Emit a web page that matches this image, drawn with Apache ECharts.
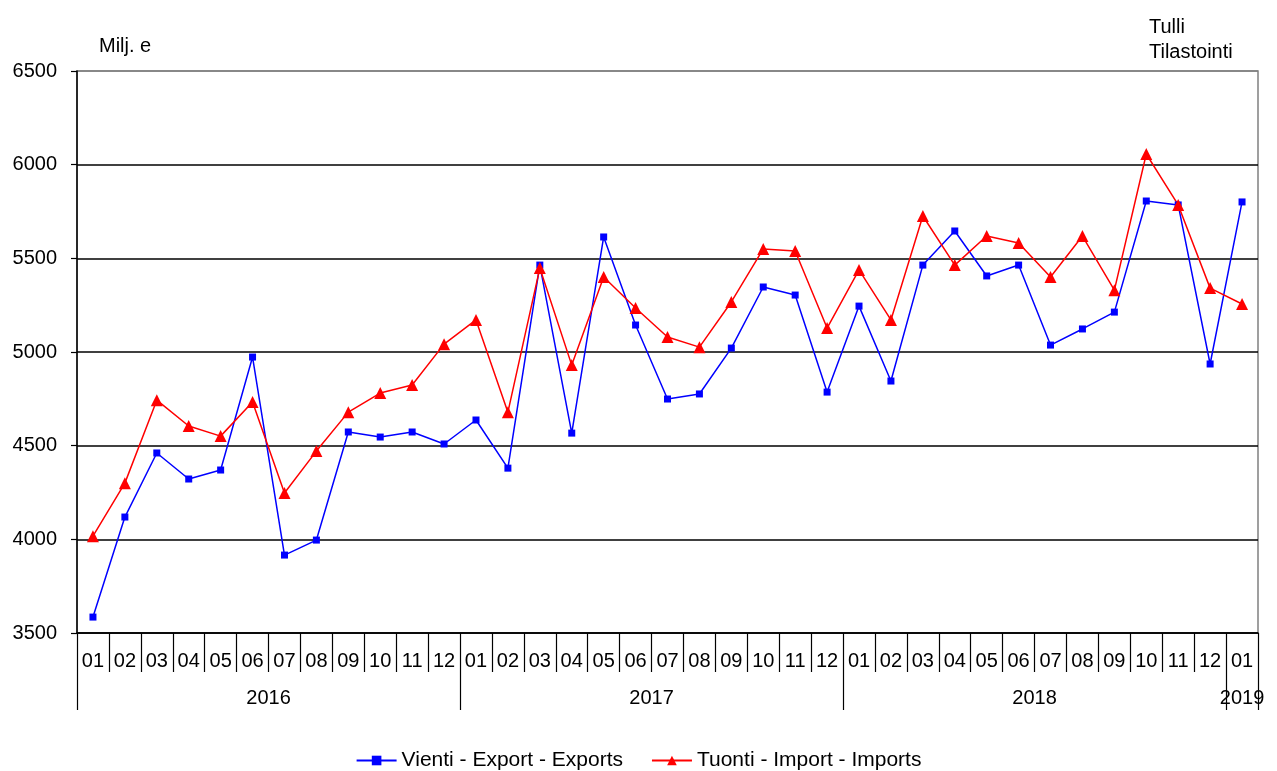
<!DOCTYPE html>
<html><head><meta charset="utf-8">
<script src="https://cdn.jsdelivr.net/npm/echarts@6/dist/echarts.min.js"></script>
<style>html,body{margin:0;padding:0;background:#fff}#c{width:1277px;height:771px}</style>
</head><body><div id="c"></div>
<script>
const years = ['2016','2017','2018','2019'];
const monthsPerYear = [12,12,12,1];
const monthLabels = [
 '01','02','03','04','05','06','07','08','09','10','11','12',
 '01','02','03','04','05','06','07','08','09','10','11','12',
 '01','02','03','04','05','06','07','08','09','10','11','12',
 '01'];
const exportsVals = [
 3585,4119,4461,4322,4370,4973,3916,3996,4573,4546,4573,4509,
 4637,4380,5464,4567,5614,5144,4749,4776,5021,5347,5304,4786,
 5245,4845,5464,5646,5406,5464,5037,5123,5213,5806,5785,4936,
 5801];
const importsVals = [
 4017,4300,4743,4605,4551,4733,4247,4471,4679,4781,4824,5042,
 5171,4679,5448,4930,5400,5235,5080,5026,5267,5550,5539,5128,
 5438,5171,5726,5464,5619,5582,5400,5619,5330,6057,5785,5341,
 5256];
const yTicks = {min:3500, max:6500, interval:500};

// year boundaries and centres on a 0..N value scale
const bounds = [0]; const centres = [];
monthsPerYear.forEach((n,i)=>{ const s=bounds[bounds.length-1]; bounds.push(s+n); centres.push(s+n/2); });
const N = monthLabels.length;

const font = 'Liberation Sans, Arial, sans-serif';
const chart = echarts.init(document.getElementById('c'));
chart.setOption({
  animation:false,
  backgroundColor:'#fff',
  textStyle:{fontFamily:font},
  title:[
    {text:'Milj. e', left:94, top:31, textStyle:{fontSize:20,fontWeight:'normal',color:'#000',fontFamily:font}},
    {text:'Tulli\nTilastointi', left:1144, top:10, textStyle:{fontSize:20,fontWeight:'normal',color:'#000',fontFamily:font,lineHeight:25}}
  ],
  grid:{left:77, right:19, top:71, bottom:138, show:true, borderColor:'#808080', borderWidth:1.5},
  legend:{
    top:745, left:'center', itemWidth:40, itemHeight:12, itemGap:28,
    textStyle:{fontSize:21,color:'#000',fontFamily:font},
    data:[{name:'Vienti - Export - Exports'},{name:'Tuonti - Import - Imports'}]
  },
  xAxis:[
    {type:'category', data:monthLabels, boundaryGap:true,
     axisLine:{lineStyle:{color:'#000',width:1.5}},
     axisTick:{show:true, interval:0, length:39, lineStyle:{color:'#000',width:1.2}},
     axisLabel:{interval:0, fontSize:20, color:'#000', margin:18, fontFamily:font},
     splitLine:{show:false}},
    {type:'value', min:0, max:N, position:'bottom', offset:39,
     axisLine:{show:false},
     axisTick:{show:true, customValues:bounds, length:38, lineStyle:{color:'#000',width:1.2}},
     axisLabel:{customValues:centres, fontSize:20, color:'#000', margin:16, fontFamily:font,
       formatter:(v)=>{ const i=centres.indexOf(v); return i>=0?years[i]:''; }},
     splitLine:{show:false}}
  ],
  yAxis:{type:'value', min:yTicks.min, max:yTicks.max, interval:yTicks.interval,
    axisLine:{show:true, lineStyle:{color:'#000',width:1.5}},
    axisTick:{show:true, length:6, lineStyle:{color:'#000',width:1.2}},
    axisLabel:{fontSize:20, color:'#000', margin:20, fontFamily:font, formatter:(v)=>String(v)},
    splitLine:{show:true, lineStyle:{color:['#000','#000','#000','#000','#000','#000','#808080'], width:1.5}}
  },
  series:[
    {name:'Vienti - Export - Exports', type:'line', xAxisIndex:0, data:exportsVals,
     symbol:'rect', symbolSize:7, lineStyle:{color:'#0000ff',width:1.5},
     itemStyle:{color:'#0000ff'}},
    {name:'Tuonti - Import - Imports', type:'line', xAxisIndex:0, data:importsVals,
     symbol:'triangle', symbolSize:12, lineStyle:{color:'#ff0000',width:1.5},
     itemStyle:{color:'#ff0000'}}
  ]
});
</script></body></html>
